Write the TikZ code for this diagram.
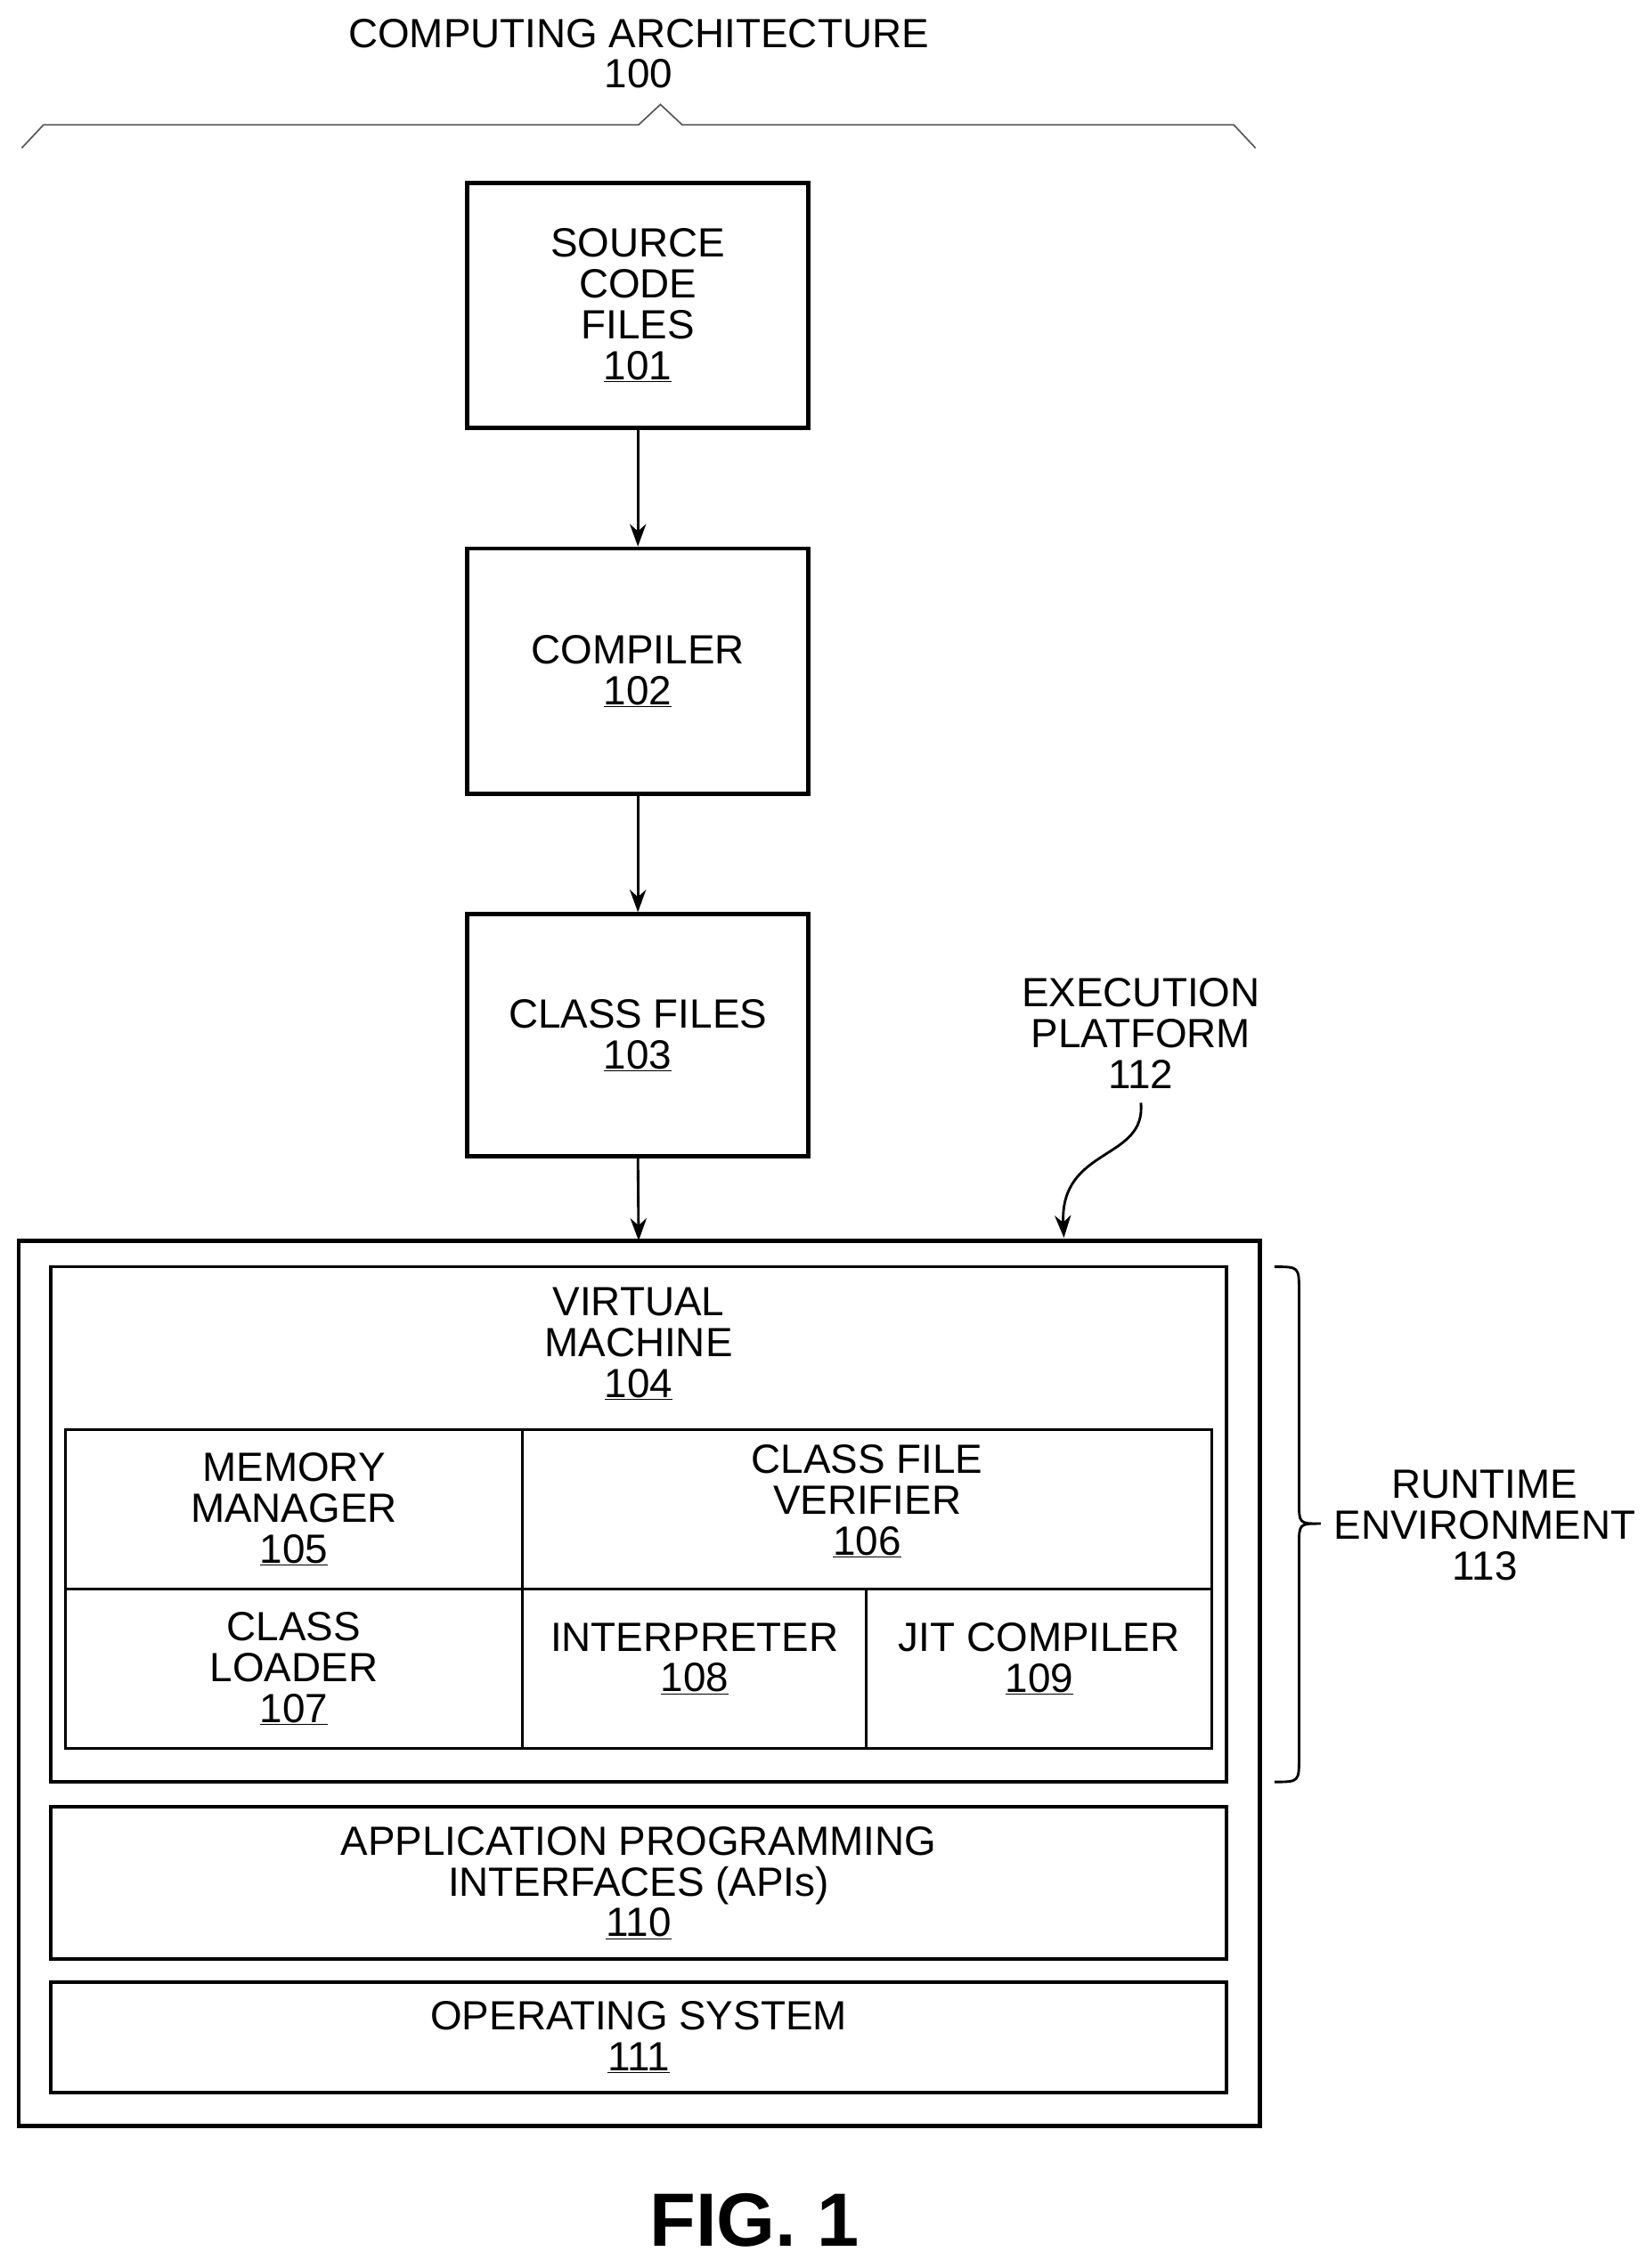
\documentclass[tikz,border=0pt]{standalone}
\usepackage{fontspec}
\setmainfont{Liberation Sans}
\usetikzlibrary{fit,arrows.meta}
\begin{document}
\begin{tikzpicture}[x=0.05cm,y=-0.05cm,
  box/.style={draw,line width=4pt,inner sep=0pt},
  cell/.style={draw,line width=2.5pt,inner sep=0pt},
  lbl/.style={align=center,font=\fontsize{40}{40}\selectfont},
  arr/.style={line width=2.5pt,-{Stealth[length=22pt,width=16pt]}}]
\useasboundingbox (0,0) rectangle (1134,1563);
\node[lbl] (t100) at (440,37) {COMPUTING ARCHITECTURE\\100};
\draw[line width=1.5pt,gray!70!black] (15,102) -- (30,86) -- (440,86) -- (455,72) -- (470,86) -- (850,86) -- (865,102);
\node[box,fit={(322,126)(557,295)}] (b101) {};
\node[lbl] at (b101) {SOURCE\\CODE\\FILES\\\underline{101}};
\node[box,fit={(322,378)(557,547)}] (b102) {};
\node[lbl] at (b102) {COMPILER\\\underline{102}};
\node[box,fit={(322,630)(557,797)}] (b103) {};
\node[lbl] at (b103) {CLASS FILES\\\underline{103}};
\node[box,fit={(13,855)(868,1465)}] (b112) {};
\coordinate (top112) at (440,855);
\draw[arr] (b101.south) -- (b102.north);
\draw[arr] (b102.south) -- (b103.north);
\draw[arr] (b103.south) -- (top112);
\node[lbl] (t112) at (786,712) {EXECUTION\\PLATFORM\\112};
\coordinate (a112) at (733,853);
\draw[arr] (786,760) .. controls (790,800) and (730,790) .. (a112);
\node[box,line width=3pt,fit={(35,873)(845,1228)}] (b104) {};
\node[lbl] at (440,926) {VIRTUAL\\MACHINE\\\underline{104}};
\node[cell,fit={(45,985)(360,1095)}] (c105) {};
\node[lbl] at (c105) {MEMORY\\MANAGER\\\underline{105}};
\node[cell,fit={(360,985)(835,1095)}] (c106) {};
\node[lbl] at ([yshift=8pt]c106) {CLASS FILE\\VERIFIER\\\underline{106}};
\node[cell,fit={(45,1095)(360,1205)}] (c107) {};
\node[lbl] at (c107) {CLASS\\LOADER\\\underline{107}};
\node[cell,fit={(360,1095)(597,1205)}] (c108) {};
\node[lbl] at ([yshift=10pt]c108) {INTERPRETER\\\underline{108}};
\node[cell,fit={(597,1095)(835,1205)}] (c109) {};
\node[lbl] at ([yshift=10pt]c109) {JIT COMPILER\\\underline{109}};
\node[box,line width=3pt,fit={(35,1245)(845,1350)}] (b110) {};
\node[lbl] at (b110) {APPLICATION PROGRAMMING\\INTERFACES (APIs)\\\underline{110}};
\node[box,line width=3pt,fit={(35,1366)(845,1442)}] (b111) {};
\node[lbl] at (b111) {OPERATING SYSTEM\\\underline{111}};
\draw[line width=2.5pt] (878,873) .. controls (895,873) .. (895,890) -- (895,1035) .. controls (895,1050) .. (910,1050) .. controls (895,1050) .. (895,1065) -- (895,1211) .. controls (895,1228) .. (878,1228);
\node[lbl] (t113) at (1023,1051) {RUNTIME\\ENVIRONMENT\\113};
\node[font=\fontsize{74}{80}\selectfont\bfseries] (fig) at (520,1530) {FIG. 1};
\end{tikzpicture}
\end{document}
